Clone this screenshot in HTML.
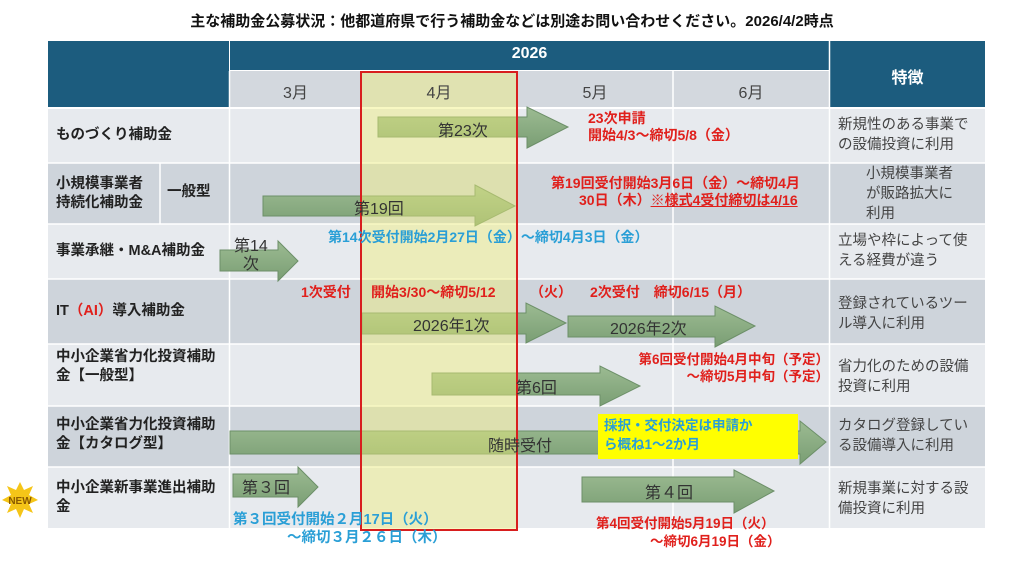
<!DOCTYPE html>
<html><head><meta charset="utf-8"><style>
body{margin:0;width:1024px;height:576px;background:#fff;position:relative;overflow:hidden;font-family:"Liberation Sans","Noto Sans CJK JP",sans-serif}
.a{position:absolute;white-space:nowrap}
.t{font-size:15px;font-weight:bold;left:0;width:1024px;text-align:center;top:10px;color:#111}
.lbl{font-size:14.5px;font-weight:bold;color:#222;line-height:19px}
.feat{font-size:14.5px;color:#444;line-height:20px}
.red{color:#e0201c;font-weight:bold;font-size:14px;line-height:17px}
.blue{color:#2a9fd6;font-weight:bold;font-size:14px;line-height:17px}
.arl{font-size:16px;color:#333}
</style></head><body>
<div class="a t">主な補助金公募状況：他都道府県で行う補助金などは別途お問い合わせください。2026/4/2時点</div>
<svg class="a" style="left:0;top:0" width="1024" height="576">
<defs><linearGradient id="g" x1="0" y1="0" x2="0" y2="1"><stop offset="0" stop-color="#9cbb92"/><stop offset="1" stop-color="#7a9e74"/></linearGradient></defs>
<rect x="48" y="41" width="181" height="66" fill="#1c5c7e"/>
<rect x="230" y="41" width="599" height="29" fill="#1c5c7e"/>
<rect x="830" y="41" width="155" height="66" fill="#1c5c7e"/>
<rect x="230" y="71" width="599" height="36" fill="#d3d8de"/>
<g fill="#e7eaee"><rect x="48" y="109" width="937" height="54"/><rect x="48" y="224" width="937" height="55"/><rect x="48" y="344" width="937" height="62"/><rect x="48" y="467" width="937" height="61"/></g>
<g fill="#ced4db"><rect x="48" y="163" width="937" height="61"/><rect x="48" y="279" width="937" height="65"/><rect x="48" y="406" width="937" height="61"/></g>
<g stroke="#fff" stroke-width="1.5"><line x1="229.5" y1="71" x2="229.5" y2="528"/><line x1="361" y1="71" x2="361" y2="528"/><line x1="517" y1="71" x2="517" y2="528"/><line x1="673" y1="71" x2="673" y2="528"/><line x1="829.5" y1="41" x2="829.5" y2="528"/><line x1="160" y1="163" x2="160" y2="224"/>
<line x1="48" y1="108" x2="985" y2="108"/><line x1="48" y1="163" x2="985" y2="163"/><line x1="48" y1="224" x2="985" y2="224"/><line x1="48" y1="279" x2="985" y2="279"/><line x1="48" y1="344" x2="985" y2="344"/><line x1="48" y1="406" x2="985" y2="406"/><line x1="48" y1="467" x2="985" y2="467"/></g>
<g fill="url(#g)" stroke="#6c8f68" stroke-width="1">
<polygon points="378,117 527,117 527,107 568,127 527,148 527,137 378,137"/>
<polygon points="263,196 475,196 475,185 515,206 475,226 475,216 263,216"/>
<polygon points="220,250 278,250 278,241 298,261 278,281 278,271 220,271"/>
<polygon points="362,313 526,313 526,303 566,323 526,343 526,334 362,334"/>
<polygon points="568,316 715,316 715,306 755,326 715,347 715,337 568,337"/>
<polygon points="432,373 600,373 600,366 640,386 600,406 600,395 432,395"/>
<polygon points="230,431 800,431 800,421 826,442 800,464 800,454 230,454"/>
<polygon points="233,474 298,474 298,467 318,487 298,507 298,497 233,497"/>
<polygon points="582,477 734,477 734,470 774,491 734,513 734,502 582,502"/>
</g>
<rect x="361" y="72" width="156" height="458" fill="#f0f07a" fill-opacity="0.45" stroke="#d81e1e" stroke-width="2"/>
<rect x="598" y="414" width="200" height="45" fill="#ffff00"/>
<polygon points="20,482 24,490 33,486 29,495 38,500 29,504 33,513 24,509 20,518 16,509 7,513 11,504 2,500 11,495 7,486 16,490" fill="#f5c518"/>
<text x="20" y="504" font-size="10" font-weight="bold" fill="#8a5a00" text-anchor="middle" font-family="Liberation Sans">NEW</text>
</svg>
<div class="a" style="left:230px;top:45px;width:599px;text-align:center;color:#fff;font-weight:bold;font-size:16px">2026</div>
<div class="a" style="left:830px;top:64px;width:155px;text-align:center;color:#fff;font-weight:bold;font-size:16px">特徴</div>
<div class="a" style="left:230px;top:79px;width:131px;text-align:center;color:#444;font-size:16px">3月</div>
<div class="a" style="left:361px;top:79px;width:156px;text-align:center;color:#444;font-size:16px">4月</div>
<div class="a" style="left:517px;top:79px;width:156px;text-align:center;color:#444;font-size:16px">5月</div>
<div class="a" style="left:673px;top:79px;width:156px;text-align:center;color:#444;font-size:16px">6月</div>
<div class="a lbl" style="left:56px;top:126px">ものづくり補助金</div>
<div class="a lbl" style="left:56px;top:175px">小規模事業者<br>持続化補助金</div>
<div class="a lbl" style="left:167px;top:183px">一般型</div>
<div class="a lbl" style="left:56px;top:242px">事業承継・M&amp;A補助金</div>
<div class="a lbl" style="left:56px;top:302px">IT<span style="color:#e0201c">（AI）</span>導入補助金</div>
<div class="a lbl" style="left:56px;top:348px">中小企業省力化投資補助<br>金【一般型】</div>
<div class="a lbl" style="left:56px;top:416px">中小企業省力化投資補助<br>金【カタログ型】</div>
<div class="a lbl" style="left:56px;top:479px">中小企業新事業進出補助<br>金</div>
<div class="a feat" style="left:838px;top:115px">新規性のある事業で<br>の設備投資に利用</div>
<div class="a feat" style="left:866px;top:164px">小規模事業者<br>が販路拡大に<br>利用</div>
<div class="a feat" style="left:838px;top:231px">立場や枠によって使<br>える経費が違う</div>
<div class="a feat" style="left:838px;top:294px">登録されているツー<br>ル導入に利用</div>
<div class="a feat" style="left:838px;top:357px">省力化のための設備<br>投資に利用</div>
<div class="a feat" style="left:838px;top:416px">カタログ登録してい<br>る設備導入に利用</div>
<div class="a feat" style="left:838px;top:479px">新規事業に対する設<br>備投資に利用</div>
<div class="a arl" style="left:438px;top:117px">第23次</div>
<div class="a arl" style="left:354px;top:195px">第19回</div>
<div class="a arl" style="left:234px;top:238px;line-height:18px;text-align:center">第14<br>次</div>
<div class="a arl" style="left:413px;top:312px">2026年1次</div>
<div class="a arl" style="left:610px;top:315px">2026年2次</div>
<div class="a arl" style="left:516px;top:374px">第6回</div>
<div class="a arl" style="left:488px;top:432px">随時受付</div>
<div class="a arl" style="left:242px;top:474px">第３回</div>
<div class="a arl" style="left:645px;top:479px">第４回</div>
<div class="a red" style="left:588px;top:110px">23次申請<br>開始4/3～締切5/8（金）</div>
<div class="a red" style="left:551px;top:175px">第19回受付開始3月6日（金）～締切4月</div>
<div class="a red" style="left:579px;top:192px">30日（木）<u>※様式4受付締切は4/16</u></div>
<div class="a blue" style="left:328px;top:229px">第14次受付開始2月27日（金）～締切4月3日（金）</div>
<div class="a red" style="left:301px;top:284px">1次受付</div>
<div class="a red" style="left:371px;top:284px">開始3/30～締切5/12</div>
<div class="a red" style="left:530px;top:284px">（火）</div>
<div class="a red" style="left:590px;top:284px">2次受付　締切6/15（月）</div>
<div class="a red" style="left:600px;top:351px;width:229px;text-align:right;font-size:13.5px">第6回受付開始4月中旬（予定）<br>～締切5月中旬（予定）</div>
<div class="a" style="left:604px;top:416px;font-size:13.5px;font-weight:bold;color:#2a9fd6;line-height:19px">採択・交付決定は申請か<br>ら概ね1～2か月</div>
<div class="a blue" style="left:233px;top:512px;font-size:14.5px">第３回受付開始２月17日（火）</div>
<div class="a blue" style="left:287px;top:530px;font-size:14.5px">～締切３月２６日（木）</div>
<div class="a red" style="left:596px;top:515px;font-size:13.5px">第4回受付開始5月19日（火）</div>
<div class="a red" style="left:650px;top:533px;font-size:13.5px">～締切6月19日（金）</div>
</body></html>
